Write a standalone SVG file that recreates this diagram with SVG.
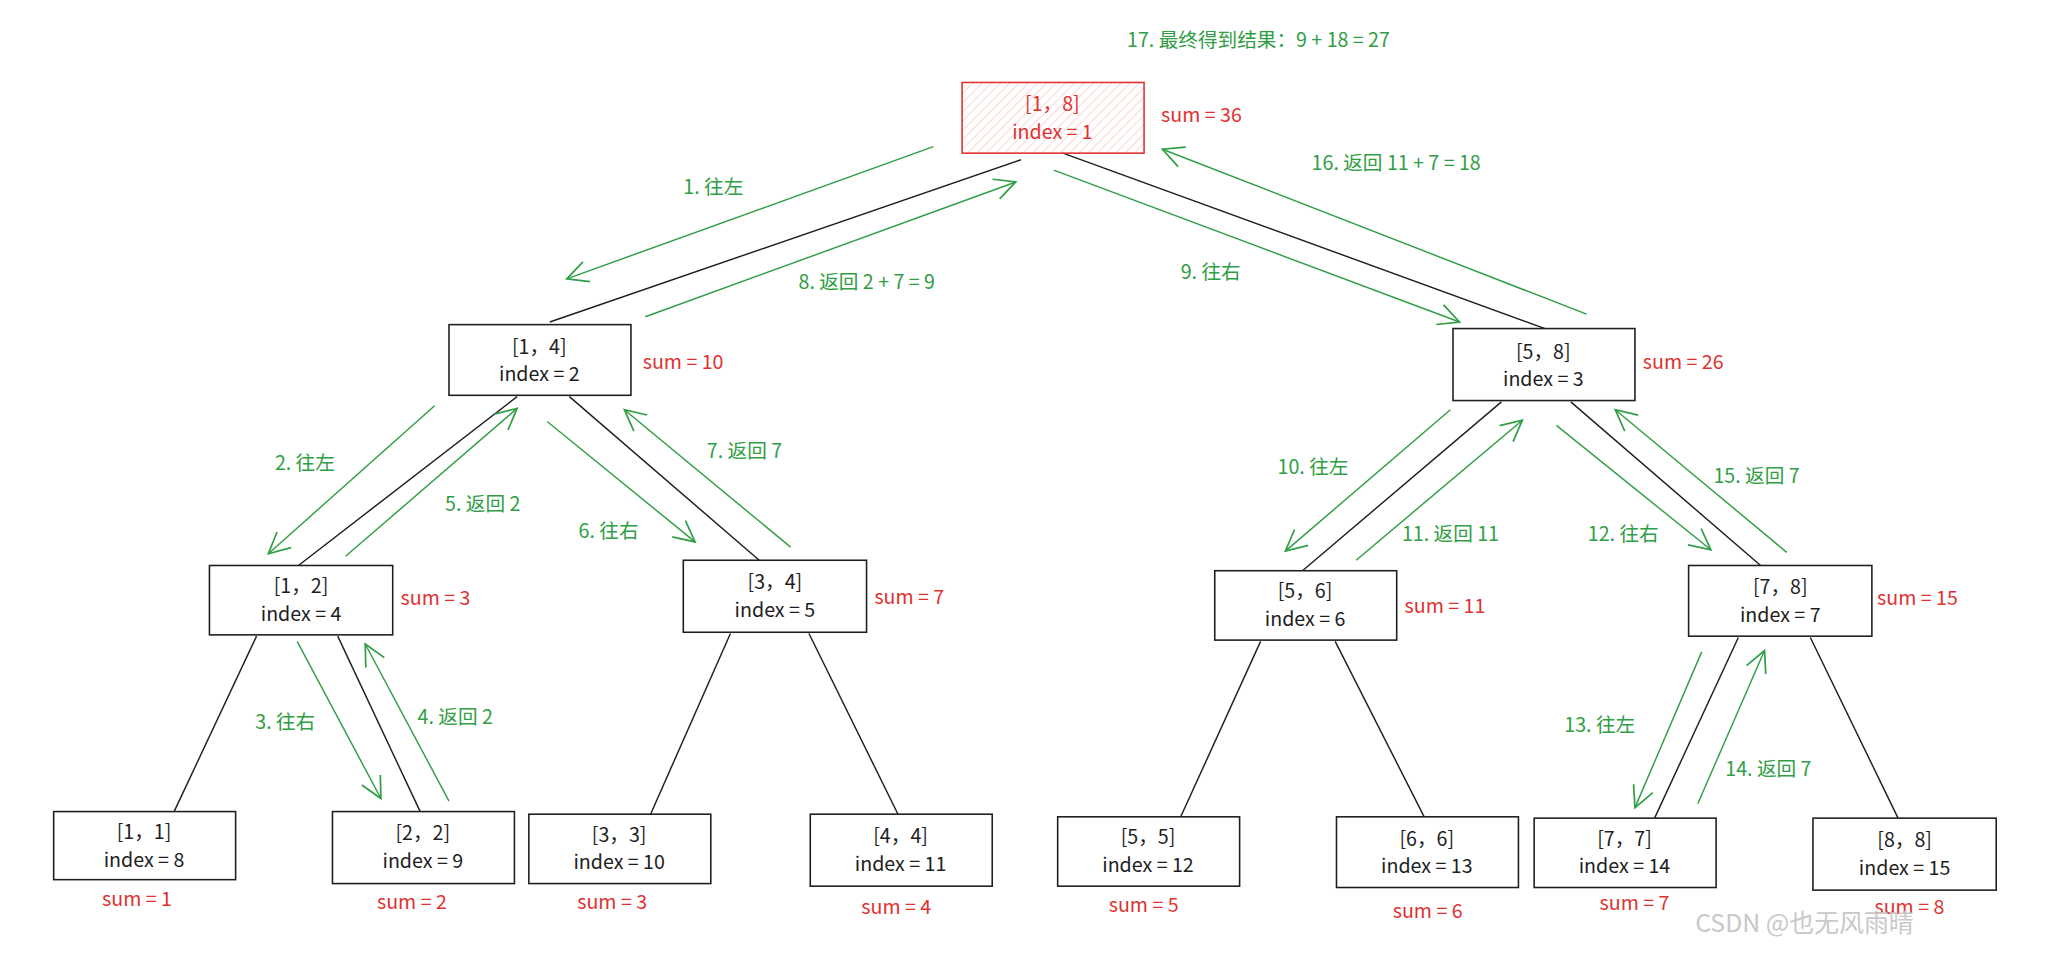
<svg xmlns="http://www.w3.org/2000/svg" width="2053" height="958" viewBox="0 0 2053 958">
<style>
text{font-family:"Noto Sans CJK SC","Noto Sans",sans-serif;font-size:15px;dominant-baseline:middle}
.n rect{fill:#fff;stroke:#1e1e1e;stroke-width:1.2}
.n text{fill:#1e1e1e;text-anchor:middle}
.s{fill:#e03131}
.g{fill:#2f9e44}
.e line{stroke:#1e1e1e;stroke-width:1.1}
.a line{stroke:#2f9e44;stroke-width:1.1;marker-end:url(#ah)}
</style>
<defs>
<marker id="ah" viewBox="0 0 20 20" refX="18" refY="10" markerWidth="20" markerHeight="20" markerUnits="userSpaceOnUse" orient="auto">
<path d="M2 2 L18 10 L2 18" fill="none" stroke="#2f9e44" stroke-width="1.3"/>
</marker>
<pattern id="hatch" width="5" height="5" patternUnits="userSpaceOnUse" patternTransform="rotate(45)">
<line x1="0" y1="0" x2="0" y2="5" stroke="#ffc9c9" stroke-width="1.2"/>
</pattern>
</defs>
<rect width="2053" height="958" fill="#fff"/>
<g transform="scale(1.309)">
<g id="edges" class="e">
<line x1="780" y1="122" x2="420" y2="246"/><line x1="812" y1="117" x2="1183" y2="252"/>
<line x1="395" y1="303" x2="228" y2="432"/><line x1="435" y1="303" x2="580" y2="428"/>
<line x1="1147" y1="307" x2="995" y2="436"/><line x1="1200" y1="307" x2="1345" y2="432"/>
<line x1="196" y1="486" x2="133" y2="620"/><line x1="258" y1="486" x2="321" y2="620"/>
<line x1="558" y1="484" x2="497" y2="622"/><line x1="618" y1="484" x2="686" y2="622"/>
<line x1="963" y1="490" x2="902" y2="624"/><line x1="1020" y1="490" x2="1088" y2="624"/>
<line x1="1328" y1="487" x2="1264" y2="625"/><line x1="1383" y1="487" x2="1450" y2="625"/>
</g>
<g id="arrows" class="a">
<line x1="713" y1="112" x2="433" y2="213"/><line x1="493" y1="242" x2="776" y2="139"/>
<line x1="805" y1="130" x2="1115" y2="246"/><line x1="1212" y1="240" x2="888" y2="114"/>
<line x1="332" y1="310" x2="205" y2="423"/><line x1="264" y1="425" x2="395" y2="312"/>
<line x1="418" y1="322" x2="531" y2="414"/><line x1="604" y1="418" x2="477" y2="313"/>
<line x1="227" y1="490" x2="291" y2="610"/><line x1="343" y1="612" x2="279" y2="492"/>
<line x1="1108" y1="313" x2="982" y2="421"/><line x1="1036" y1="428" x2="1163" y2="321"/>
<line x1="1189" y1="325" x2="1307" y2="420"/><line x1="1365" y1="422" x2="1234" y2="313"/>
<line x1="1300" y1="498" x2="1249" y2="617"/><line x1="1297" y1="614" x2="1348" y2="497"/>
</g>
<g id="n1" class="n"><rect x="735" y="63" width="139" height="54" fill="url(#hatch)" style="fill:url(#hatch);stroke:#e03131"/><text x="804" y="81" class="s" style="fill:#e03131">[1，8]</text><text x="804" y="102" style="fill:#e03131">index = 1</text></g>
<g id="n2" class="n"><rect x="343" y="248" width="139" height="54"/><text x="412" y="266">[1，4]</text><text x="412" y="287">index = 2</text></g>
<g id="n3" class="n"><rect x="1110" y="251" width="139" height="55"/><text x="1179" y="270">[5，8]</text><text x="1179" y="291">index = 3</text></g>
<g id="n4" class="n"><rect x="160" y="432" width="140" height="53"/><text x="230" y="449">[1，2]</text><text x="230" y="470">index = 4</text></g>
<g id="n5" class="n"><rect x="522" y="428" width="140" height="55"/><text x="592" y="446">[3，4]</text><text x="592" y="467">index = 5</text></g>
<g id="n6" class="n"><rect x="928" y="436" width="139" height="53"/><text x="997" y="453">[5，6]</text><text x="997" y="474">index = 6</text></g>
<g id="n7" class="n"><rect x="1290" y="432" width="140" height="54"/><text x="1360" y="450">[7，8]</text><text x="1360" y="471">index = 7</text></g>
<g id="n8" class="n"><rect x="41" y="620" width="139" height="52"/><text x="110" y="637">[1，1]</text><text x="110" y="658">index = 8</text></g>
<g id="n9" class="n"><rect x="254" y="620" width="139" height="55"/><text x="323" y="638">[2，2]</text><text x="323" y="659">index = 9</text></g>
<g id="n10" class="n"><rect x="404" y="622" width="139" height="53"/><text x="473" y="639">[3，3]</text><text x="473" y="660">index = 10</text></g>
<g id="n11" class="n"><rect x="619" y="622" width="139" height="55"/><text x="688" y="640">[4，4]</text><text x="688" y="661">index = 11</text></g>
<g id="n12" class="n"><rect x="808" y="624" width="139" height="53"/><text x="877" y="641">[5，5]</text><text x="877" y="662">index = 12</text></g>
<g id="n13" class="n"><rect x="1021" y="624" width="139" height="54"/><text x="1090" y="642">[6，6]</text><text x="1090" y="663">index = 13</text></g>
<g id="n14" class="n"><rect x="1172" y="625" width="139" height="53"/><text x="1241" y="642">[7，7]</text><text x="1241" y="663">index = 14</text></g>
<g id="n15" class="n"><rect x="1385" y="625" width="140" height="55"/><text x="1455" y="643">[8，8]</text><text x="1455" y="664">index = 15</text></g>
<g id="sums" class="s">
<text x="887" y="89">sum = 36</text><text x="491" y="278">sum = 10</text><text x="1255" y="278">sum = 26</text>
<text x="306" y="458">sum = 3</text><text x="668" y="457">sum = 7</text><text x="1073" y="464">sum = 11</text><text x="1434" y="458">sum = 15</text>
<text x="78" y="688">sum = 1</text><text x="288" y="690">sum = 2</text><text x="441" y="690">sum = 3</text><text x="658" y="694">sum = 4</text>
<text x="847" y="693">sum = 5</text><text x="1064" y="697">sum = 6</text><text x="1222" y="691">sum = 7</text><text x="1432" y="694">sum = 8</text>
</g>
<g id="labels" class="g">
<text x="861" y="32">17. 最终得到结果：9 + 18 = 27</text>
<text x="522" y="144">1. 往左</text><text x="610" y="217">8. 返回 2 + 7 = 9</text>
<text x="902" y="209">9. 往右</text><text x="1002" y="126">16. 返回 11 + 7 = 18</text>
<text x="210" y="355">2. 往左</text><text x="340" y="386">5. 返回 2</text>
<text x="442" y="407">6. 往右</text><text x="540" y="346">7. 返回 7</text>
<text x="195" y="553">3. 往右</text><text x="319" y="549">4. 返回 2</text>
<text x="976" y="358">10. 往左</text><text x="1071" y="409">11. 返回 11</text>
<text x="1213" y="409">12. 往右</text><text x="1309" y="365">15. 返回 7</text>
<text x="1195" y="555">13. 往左</text><text x="1318" y="589">14. 返回 7</text>
</g>
<text x="1295" y="707" style="fill:#c8c8c8;font-size:19px">CSDN @也无风雨晴</text>
</g>
</svg>
